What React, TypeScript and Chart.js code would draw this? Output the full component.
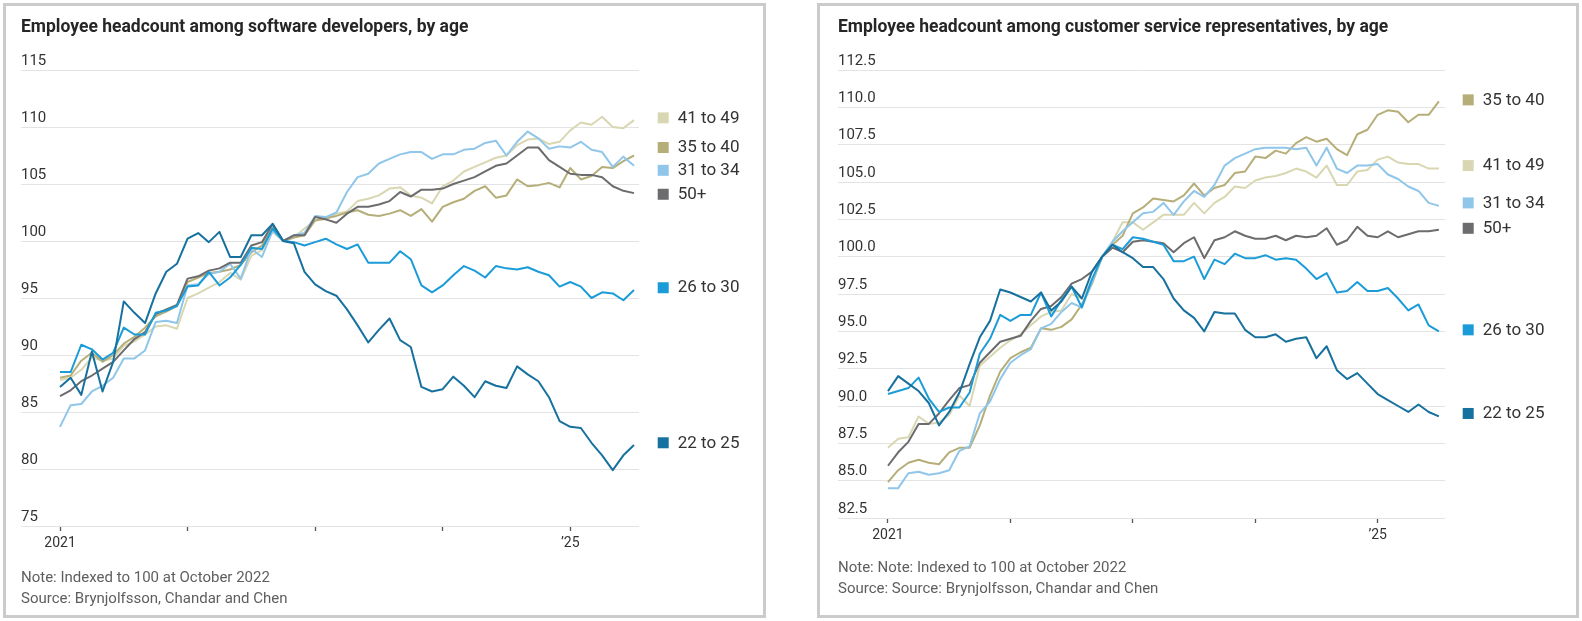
import React, { useEffect, useRef } from 'react';
import { Chart, registerables } from 'chart.js';

Chart.register(...registerables);

// ---------- categories ----------
const MONTHS: string[] = [];
for (let y = 2021; y <= 2025; y++) {
  for (let m = 1; m <= 12; m++) {
    if (y === 2025 && m > 7) break;
    MONTHS.push(`${y}-${String(m).padStart(2, '0')}`);
  }
}
const X_TICK_MONTHS = ['2021-01', '2022-01', '2023-01', '2024-01', '2025-01'];
const X_TICK_LABELS = ['2021', '', '', '', '\u201925'];

const SERIES_NAMES = ['22 to 25', '26 to 30', '50+', '31 to 34', '35 to 40', '41 to 49'];
const SERIES_COLORS = ['#17719f', '#1b9cd8', '#6c6c6e', '#8fc6e9', '#b6ae78', '#d9d7b2'];

// ---------- software developers ----------
const SW_22_25 = [87.2, 88.0, 86.5, 90.3, 86.8, 89.4, 94.7, 93.7, 92.8, 95.4, 97.3, 98.0, 100.2, 100.7, 99.9, 100.8, 98.6, 98.6, 100.5, 100.5, 101.5, 100.0, 99.8, 97.3, 96.2, 95.6, 95.2, 94.0, 92.6, 91.1, 92.2, 93.2, 91.3, 90.7, 87.2, 86.8, 87.0, 88.1, 87.3, 86.3, 87.7, 87.3, 87.1, 89.0, 88.3, 87.7, 86.3, 84.2, 83.7, 83.6, 82.3, 81.2, 79.9, 81.2, 82.1];
const SW_26_30 = [88.5, 88.5, 90.9, 90.5, 89.6, 90.2, 92.4, 91.8, 91.8, 93.7, 93.9, 94.3, 96.0, 96.1, 97.3, 96.1, 96.8, 97.9, 99.4, 99.3, 101.1, 100.0, 99.9, 99.6, 99.9, 100.2, 99.7, 99.3, 99.7, 98.1, 98.1, 98.1, 99.1, 98.4, 96.1, 95.5, 96.1, 97.0, 97.8, 97.4, 96.8, 97.8, 97.6, 97.5, 97.7, 97.3, 97.0, 96.0, 96.4, 96.0, 95.0, 95.5, 95.4, 94.8, 95.7];
const SW_50_PLUS = [86.4, 86.9, 87.7, 88.2, 88.8, 89.4, 90.4, 91.4, 92.0, 93.6, 94.0, 94.4, 96.7, 96.9, 97.4, 97.6, 98.1, 98.1, 99.6, 99.9, 101.5, 100.0, 100.5, 100.5, 102.1, 101.9, 101.6, 102.4, 103.0, 103.0, 103.2, 103.5, 104.3, 103.9, 104.5, 104.5, 104.6, 105.0, 105.3, 105.6, 106.1, 106.6, 106.8, 107.5, 108.2, 108.2, 107.1, 106.5, 105.9, 105.8, 105.8, 105.6, 104.8, 104.4, 104.2];
const SW_31_34 = [83.7, 85.6, 85.7, 86.8, 87.3, 88.0, 89.7, 89.7, 90.4, 92.9, 93.0, 92.8, 96.1, 96.2, 97.1, 97.3, 98.0, 96.7, 99.3, 98.6, 100.9, 100.0, 100.5, 100.7, 102.2, 102.1, 102.5, 104.3, 105.6, 105.9, 106.8, 107.2, 107.6, 107.8, 107.8, 107.2, 107.6, 107.6, 108.0, 108.1, 108.6, 108.8, 107.5, 108.7, 109.6, 109.0, 108.1, 108.3, 108.2, 108.7, 108.0, 107.8, 106.5, 107.4, 106.6];
const SW_35_40 = [88.0, 88.2, 89.5, 90.2, 89.4, 90.0, 91.0, 91.6, 92.4, 93.4, 93.8, 94.3, 96.4, 96.8, 97.2, 97.3, 97.5, 97.9, 99.0, 99.6, 101.2, 100.0, 100.3, 100.5, 101.8, 102.0, 102.2, 102.5, 102.7, 102.3, 102.2, 102.4, 102.7, 102.2, 102.8, 101.7, 103.0, 103.4, 103.7, 104.4, 104.8, 103.8, 104.0, 105.4, 104.8, 104.9, 105.1, 104.7, 106.4, 105.4, 105.7, 106.5, 106.4, 107.0, 107.5];
const SW_41_49 = [87.8, 88.0, 88.7, 89.8, 89.5, 89.7, 90.8, 91.2, 91.8, 92.5, 92.6, 92.3, 95.0, 95.4, 95.9, 96.4, 97.2, 96.6, 98.7, 99.2, 100.8, 100.0, 100.3, 101.1, 101.8, 101.9, 102.4, 102.6, 103.5, 103.7, 104.0, 104.6, 104.7, 104.0, 103.8, 103.3, 104.8, 105.3, 106.1, 106.5, 106.9, 107.3, 107.5, 108.4, 108.9, 109.0, 108.5, 108.7, 109.7, 110.4, 110.2, 110.9, 110.0, 109.9, 110.6];
// value at which each end label sits (same order as SERIES_NAMES)
const SW_LABEL_AT = [82.3, 95.9, 104.1, 106.2, 108.2, 110.8];
const SW_Y_TICKS = [75, 80, 85, 90, 95, 100, 105, 110, 115];

// ---------- customer service representatives ----------
const CS_22_25 = [91.0, 92.0, 91.5, 91.0, 90.2, 88.7, 89.6, 90.9, 92.8, 94.6, 95.7, 97.8, 97.6, 97.3, 97.0, 97.6, 96.4, 97.0, 98.0, 97.2, 99.0, 100.0, 100.8, 100.3, 99.9, 99.3, 99.3, 98.5, 97.2, 96.4, 95.9, 95.0, 96.3, 96.2, 96.2, 95.1, 94.6, 94.6, 94.8, 94.3, 94.5, 94.6, 93.2, 94.0, 92.4, 91.8, 92.2, 91.5, 90.8, 90.4, 90.0, 89.6, 90.1, 89.6, 89.3];
const CS_26_30 = [90.8, 91.0, 91.2, 91.9, 90.5, 89.6, 89.9, 89.9, 90.9, 93.5, 94.5, 96.1, 95.7, 96.1, 96.1, 97.6, 96.0, 97.1, 98.0, 96.6, 98.5, 100.0, 100.8, 100.5, 101.3, 101.2, 101.0, 100.8, 99.7, 99.7, 100.0, 98.5, 99.8, 99.5, 100.2, 99.9, 99.9, 100.1, 99.8, 99.9, 99.8, 99.2, 98.5, 98.9, 97.6, 97.7, 98.3, 97.7, 97.7, 97.9, 97.2, 96.4, 96.8, 95.4, 95.0];
const CS_50_PLUS = [86.0, 86.9, 87.6, 88.8, 88.8, 89.5, 90.4, 91.2, 91.4, 92.9, 93.6, 94.3, 94.5, 94.7, 95.7, 96.5, 96.7, 97.3, 98.2, 98.5, 99.0, 100.0, 100.6, 100.3, 101.0, 101.1, 101.0, 100.9, 100.3, 100.9, 101.3, 99.9, 101.1, 101.3, 101.7, 101.4, 101.2, 101.2, 101.4, 101.1, 101.4, 101.3, 101.4, 101.9, 100.8, 101.1, 102.0, 101.4, 101.3, 101.7, 101.3, 101.5, 101.7, 101.7, 101.8];
const CS_31_34 = [84.5, 84.5, 85.5, 85.6, 85.4, 85.5, 85.7, 87.0, 87.3, 89.5, 90.3, 91.8, 92.9, 93.4, 93.8, 95.2, 95.5, 96.3, 96.9, 96.6, 98.3, 100.0, 101.0, 101.7, 102.3, 102.9, 103.0, 103.6, 102.8, 103.7, 104.4, 104.0, 104.8, 106.1, 106.6, 106.9, 107.2, 107.3, 107.3, 107.3, 107.2, 107.3, 106.1, 107.3, 105.9, 105.6, 106.1, 106.1, 106.2, 105.5, 105.2, 104.7, 104.4, 103.6, 103.4];
const CS_35_40 = [84.9, 85.7, 86.2, 86.4, 86.2, 86.1, 86.9, 87.2, 87.2, 88.7, 90.7, 92.3, 93.2, 93.6, 93.9, 95.2, 95.1, 95.3, 95.8, 96.8, 98.2, 100.0, 100.8, 101.4, 102.9, 103.3, 103.9, 103.8, 103.7, 104.1, 104.9, 104.1, 104.6, 104.8, 105.6, 105.7, 106.7, 106.6, 107.1, 106.9, 107.6, 108.0, 107.7, 107.9, 107.2, 106.8, 108.2, 108.5, 109.5, 109.8, 109.7, 109.0, 109.5, 109.5, 110.4];
const CS_41_49 = [87.2, 87.8, 87.9, 89.3, 88.8, 88.9, 89.4, 90.7, 90.0, 92.7, 93.3, 93.9, 94.4, 94.8, 95.4, 96.0, 96.3, 96.4, 97.5, 97.2, 98.4, 100.0, 101.0, 102.3, 102.3, 101.8, 102.3, 102.8, 102.8, 102.8, 103.6, 102.9, 103.6, 104.0, 104.7, 104.6, 105.1, 105.3, 105.4, 105.6, 105.9, 105.7, 105.3, 106.1, 104.8, 104.8, 105.7, 105.8, 106.5, 106.7, 106.3, 106.2, 106.2, 105.9, 105.9];
const CS_LABEL_AT = [89.5, 95.1, 101.9, 103.6, 110.5, 106.1];
const CS_Y_TICKS = [82.5, 85, 87.5, 90, 92.5, 95, 97.5, 100, 102.5, 105, 107.5, 110, 112.5];

const FONT = 'Roboto, "Noto Sans", Arial, sans-serif';

type PanelSpec = {
  title: string;
  note: string;
  source: string;
  series: number[][];
  labelAt: number[];
  yTicks: number[];
  yDecimals: number;
  canvasW: number;
  canvasH: number;
  padding: { left: number; right: number; top: number; bottom: number };
  xMin: number;
  xMax: number;
  titleLeft: number;
  noteTop: number;
  legendBox: number;
  legendText: number;
};

const endLabelsPlugin = {
  id: 'endLabels',
  afterDatasetsDraw(chart: any, _args: any, opts: any) {
    const { ctx, chartArea, scales } = chart;
    ctx.save();
    ctx.font = `17px ${FONT}`;
    ctx.textBaseline = 'middle';
    ctx.textAlign = 'left';
    (opts.items || []).forEach((it: any) => {
      const py = scales.y.getPixelForValue(it.value);
      ctx.fillStyle = it.color;
      ctx.fillRect(chartArea.right + opts.boxOffset, py - 5.5, 11, 11);
      ctx.fillStyle = '#333333';
      ctx.fillText(it.text, chartArea.right + opts.textOffset, py + 0.5);
    });
    ctx.restore();
  },
};

function Panel({ spec, style }: { spec: PanelSpec; style: React.CSSProperties }) {
  const ref = useRef<HTMLCanvasElement | null>(null);
  useEffect(() => {
    if (!ref.current) return;
    const datasets = spec.series.map((vals, k) => ({
      label: SERIES_NAMES[k],
      data: vals.map((v, i) => ({ x: i, y: v })),
      borderColor: SERIES_COLORS[k],
      backgroundColor: SERIES_COLORS[k],
      borderWidth: 2,
      pointRadius: 0,
      tension: 0,
      fill: false,
      borderJoinStyle: 'round' as const,
    }));
    const items = SERIES_NAMES.map((name, k) => ({
      text: name,
      value: spec.labelAt[k],
      color: SERIES_COLORS[k],
    }));
    const chart = new Chart(ref.current, {
      type: 'line',
      data: { datasets },
      plugins: [endLabelsPlugin],
      options: {
        animation: false,
        responsive: false,
        maintainAspectRatio: false,
        events: [],
        layout: { padding: spec.padding },
        plugins: {
          legend: { display: false },
          tooltip: { enabled: false },
          endLabels: { items, boxOffset: spec.legendBox, textOffset: spec.legendText },
        } as any,
        scales: {
          x: {
            type: 'linear',
            min: spec.xMin,
            max: spec.xMax,
            afterBuildTicks: (s: any) => {
              s.ticks = X_TICK_MONTHS.map((m) => ({ value: MONTHS.indexOf(m) }));
            },
            afterFit: (s: any) => {
              s.height = 40;
            },
            ticks: {
              autoSkip: false,
              maxRotation: 0,
              padding: 4,
              color: '#333333',
              font: { family: FONT, size: 14 },
              callback: (v: any) => {
                const idx = X_TICK_MONTHS.indexOf(MONTHS[Math.round(Number(v))]);
                return idx >= 0 ? X_TICK_LABELS[idx] : '';
              },
            },
            grid: {
              drawOnChartArea: false,
              drawTicks: true,
              tickLength: 5,
              tickColor: '#555555',
              tickWidth: 1.3,
            },
            border: { display: false },
          },
          y: {
            type: 'linear',
            min: spec.yTicks[0],
            max: spec.yTicks[spec.yTicks.length - 1],
            afterBuildTicks: (s: any) => {
              s.ticks = spec.yTicks.map((v) => ({ value: v }));
            },
            afterFit: (s: any) => {
              s.width = 0;
            },
            ticks: {
              mirror: true,
              padding: 0,
              labelOffset: -9,
              color: '#333333',
              font: { family: FONT, size: 15 },
              callback: (v: any) => Number(v).toFixed(spec.yDecimals),
            },
            grid: { color: '#e3e3e3', lineWidth: 1, drawTicks: false },
            border: { display: false },
          },
        },
      } as any,
    });
    return () => chart.destroy();
  }, [spec]);

  return (
    <div
      style={{
        position: 'absolute',
        boxSizing: 'border-box',
        border: '3px solid #cbcbcb',
        background: '#ffffff',
        ...style,
      }}
    >
      <canvas
        ref={ref}
        width={spec.canvasW}
        height={spec.canvasH}
        style={{ position: 'absolute', left: 0, top: 0, width: spec.canvasW, height: spec.canvasH }}
      />
      <div
        style={{
          position: 'absolute',
          left: spec.titleLeft,
          top: 10,
          fontFamily: FONT,
          fontWeight: 700,
          fontSize: 17.5,
          lineHeight: '20px',
          color: '#262626',
          whiteSpace: 'nowrap',
        }}
      >
        {spec.title}
      </div>
      <div
        style={{
          position: 'absolute',
          left: spec.titleLeft,
          top: spec.noteTop,
          fontFamily: FONT,
          fontSize: 15,
          lineHeight: '21px',
          color: '#5e5e5e',
          whiteSpace: 'nowrap',
        }}
      >
        <div>{spec.note}</div>
        <div>{spec.source}</div>
      </div>
    </div>
  );
}

const SOFTWARE: PanelSpec = {
  title: 'Employee headcount among software developers, by age',
  note: 'Note: Indexed to 100 at October 2022',
  source: 'Source: Brynjolfsson, Chandar and Chen',
  series: [SW_22_25, SW_26_30, SW_50_PLUS, SW_31_34, SW_35_40, SW_41_49],
  labelAt: SW_LABEL_AT,
  yTicks: SW_Y_TICKS,
  yDecimals: 0,
  canvasW: 757,
  canvasH: 609,
  padding: { left: 15, right: 124, top: 64, bottom: 49 },
  xMin: -3.67,
  xMax: 54.47,
  titleLeft: 15,
  noteTop: 561,
  legendBox: 18.7,
  legendText: 38.7,
};

const SERVICE: PanelSpec = {
  title: 'Employee headcount among customer service representatives, by age',
  note: 'Note: Note: Indexed to 100 at October 2022',
  source: 'Source: Source: Brynjolfsson, Chandar and Chen',
  series: [CS_22_25, CS_26_30, CS_50_PLUS, CS_31_34, CS_35_40, CS_41_49],
  labelAt: CS_LABEL_AT,
  yTicks: CS_Y_TICKS,
  yDecimals: 1,
  canvasW: 756,
  canvasH: 609,
  padding: { left: 18, right: 131, top: 64, bottom: 57 },
  xMin: -4.9,
  xMax: 54.6,
  titleLeft: 18,
  noteTop: 551,
  legendBox: 17.7,
  legendText: 37.7,
};

export default function App() {
  return (
    <div
      style={{
        position: 'absolute',
        left: 0,
        top: 0,
        width: 1582,
        height: 621,
        background: '#ffffff',
        overflow: 'hidden',
      }}
    >
      <Panel spec={SOFTWARE} style={{ left: 3, top: 3, width: 763, height: 615 }} />
      <Panel spec={SERVICE} style={{ left: 817, top: 3, width: 762, height: 615 }} />
    </div>
  );
}
